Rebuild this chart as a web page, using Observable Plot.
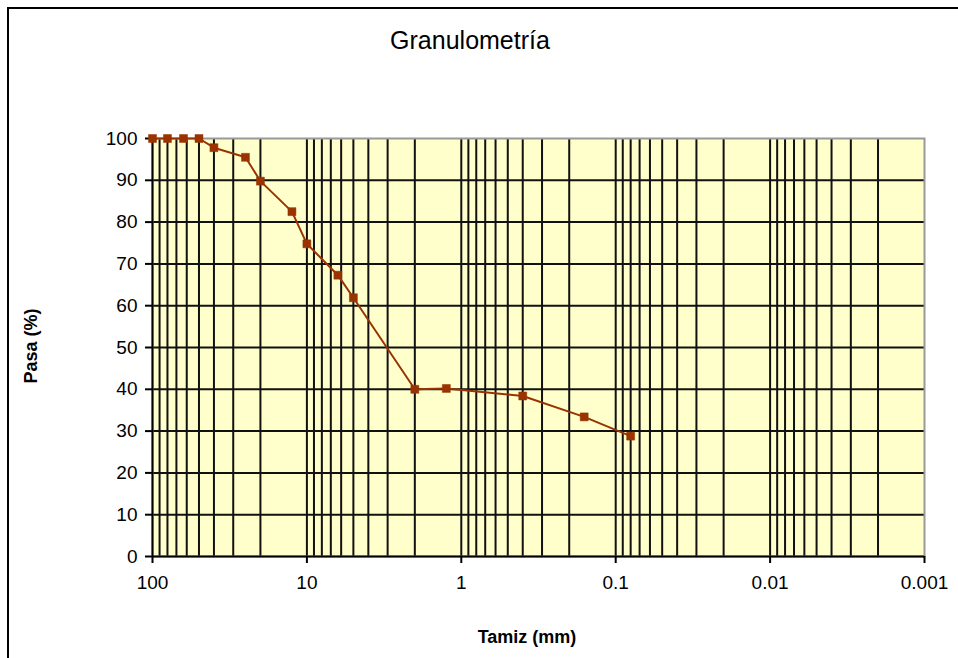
<!DOCTYPE html>
<html>
<head>
<meta charset="utf-8">
<script src="https://cdn.jsdelivr.net/npm/d3@7"></script>
<script src="https://cdn.jsdelivr.net/npm/@observablehq/plot@0.6"></script>
<style>
  html, body { margin: 0; padding: 0; background: #fff; }
  #wrap { position: relative; width: 958px; height: 658px; overflow: hidden; font-family: "Liberation Sans", Arial, sans-serif; }
  #frame { position: absolute; left: 7px; top: 7px; width: 1200px; height: 1200px; border-left: 2px solid #000; border-top: 2px solid #000; box-sizing: border-box; }
  #title { position: absolute; left: 0; width: 940px; top: 26px; text-align: center; font-size: 25px; color: #000; }
  #ylabel { position: absolute; left: 31px; top: 346px; transform: translate(-50%, -50%) rotate(-90deg); font-size: 18px; font-weight: bold; white-space: nowrap; }
  #xlabel { position: absolute; left: 527px; top: 637px; transform: translate(-50%, -50%); font-size: 18px; font-weight: bold; white-space: nowrap; }
  svg { position: absolute; left: 0; top: 0; }
</style>
</head>
<body>
<div id="wrap">
  <div id="frame"></div>
  <div id="title">Granulometría</div>
  <div id="ylabel">Pasa (%)</div>
  <div id="xlabel">Tamiz (mm)</div>
</div>
<script>
// Sieve opening (mm) and percent passing
const tamiz = [100, 80, 63, 50, 40, 25, 20, 12.5, 10, 6.3, 5, 2, 1.25, 0.4, 0.16, 0.08];
const pasa  = [100, 100, 100, 100, 97.8, 95.5, 89.8, 82.5, 74.8, 67.3, 61.9, 40.0, 40.2, 38.4, 33.4, 28.8];

const xTicks = [100, 10, 1, 0.1, 0.01, 0.001];
const yTicks = [0, 10, 20, 30, 40, 50, 60, 70, 80, 90, 100];
const decades = [10, 1, 0.1, 0.01, 0.001];
const multipliers = [1, 2, 3, 4, 5, 6, 7, 8, 9];
const xGrid = decades.flatMap(d => multipliers.map(m => +(m * d).toPrecision(6))).filter(v => v > 0.001 && v < 100);

const data = tamiz.map((t, i) => ({tamiz: t, pasa: pasa[i]}));

const chart = Plot.plot({
  width: 958,
  height: 658,
  marginLeft: 152,
  marginRight: 34,
  marginTop: 138,
  marginBottom: 102,
  style: {fontFamily: "Liberation Sans, Arial, sans-serif", fontSize: "19px", color: "#000", background: "transparent"},
  x: {type: "log", domain: [100, 0.001], ticks: xTicks, tickFormat: d => String(d)},
  y: {domain: [0, 100], ticks: yTicks},
  marks: [
    Plot.frame({fill: "#FFFFCC", stroke: null}),
    Plot.ruleX(xGrid, {stroke: "#111", strokeWidth: 2}),
    Plot.ruleY(yTicks.filter(v => v > 0 && v < 100), {stroke: "#111", strokeWidth: 2}),
    Plot.frame({stroke: "#999", strokeWidth: 2}),
    Plot.ruleX([100], {stroke: "#000", strokeWidth: 2}),
    Plot.ruleY([0], {stroke: "#000", strokeWidth: 2}),
    Plot.axisX({ticks: xTicks, tickFormat: d => String(d), tickSize: 7, tickPadding: 12, label: null, stroke: "#000", strokeWidth: 2, fontSize: 19}),
    Plot.axisY({ticks: yTicks, tickSize: 7, tickPadding: 8, label: null, stroke: "#000", strokeWidth: 2, fontSize: 19}),
    Plot.line(data, {x: "tamiz", y: "pasa", stroke: "#993300", strokeWidth: 2}),
    Plot.dot(data, {x: "tamiz", y: "pasa", symbol: "square", r: 4.5, fill: "#993300", stroke: "#993300", strokeWidth: 0.5})
  ]
});
document.getElementById("wrap").appendChild(chart);
</script>
</body>
</html>
